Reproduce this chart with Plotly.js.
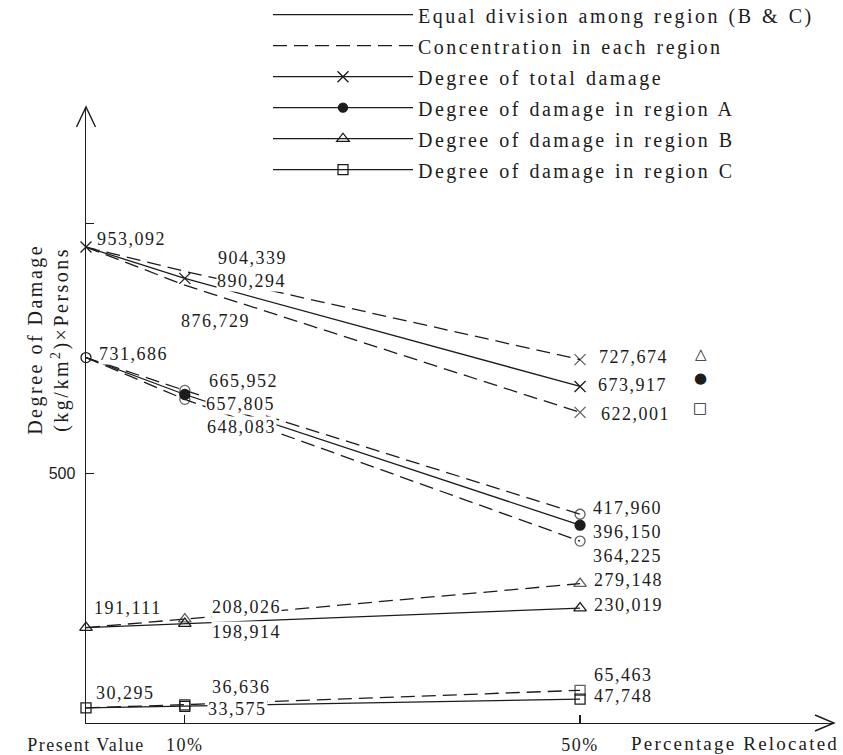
<!DOCTYPE html>
<html>
<head>
<meta charset="utf-8">
<script src="https://cdn.plot.ly/plotly-3.0.1.min.js"></script>
<style>
  html, body { margin: 0; padding: 0; background: #fff; }
  #chart { width: 843px; height: 755px; }
  .annotation-text { letter-spacing: 1.5px; }
  .xtick text { letter-spacing: 1.5px; }
  .legendtext { letter-spacing: 2.5px; word-spacing: 1px; }
</style>
</head>
<body>
<div id="chart"></div>
<script>
// ---- data (values as printed on the chart) ----
const xPct = [0, 10, 50];
const xTickText = ['Present Value', '10%', '50%'];
const totalEqual = [953092, 890294, 673917];
const totalConcB = [953092, 904339, 727674];
const totalConcC = [953092, 876729, 622001];
const aEqual = [731686, 657805, 396150];
const aConcB = [731686, 665952, 417960];
const aConcC = [731686, 648083, 364225];
const bEqual = [191111, 198914, 230019];
const bConcB = [191111, 208026, 279148];
const cEqual = [30295, 33575, 47748];
const cConcC = [30295, 36636, 65463];
const legendNames = [
  'Equal division among region (B & C)',
  'Concentration in each region',
  'Degree of total damage',
  'Degree of damage in region A',
  'Degree of damage in region B',
  'Degree of damage in region C'
];
const yTickVals = [500];
const yTickText = ['500'];

const INK = '#1c1c1c';
const SERIF = 'Liberation Serif';
const DASH = '14px,7px';
const k = v => v.map(d => d / 1000);

function line(y, dash, symbol, size) {
  return {
    x: xPct, y: k(y), type: 'scatter', mode: 'lines+markers',
    showlegend: false, cliponaxis: false, hoverinfo: 'skip',
    line: { color: INK, width: 1.3, dash: dash },
    marker: { symbol: symbol, size: size, color: INK, line: { color: INK, width: 1.3 } }
  };
}

const traces = [
  line(totalConcB, DASH, 'x-thin', [0, 0, 11]),
  line(totalConcC, DASH, 'x-thin', [0, 0, 11]),
  line(totalEqual, 'solid', 'x-thin', 11),
  line(aConcB, DASH, 'circle-open', [0, 10, 10]),
  line(aConcC, DASH, 'circle-open', [0, 10, 10]),
  line(aEqual, 'solid', ['circle-open', 'circle', 'circle'], 10),
  line(bConcB, DASH, 'triangle-up-open', [0, 11, 11]),
  line(bEqual, 'solid', 'triangle-up-open', 11),
  line(cConcC, DASH, 'square-open', [0, 10, 10]),
  line(cEqual, 'solid', 'square-open', 10)
];

// legend-only entries
const legendStyles = [
  { mode: 'lines', dash: 'solid' },
  { mode: 'lines', dash: DASH },
  { mode: 'lines+markers', dash: 'solid', symbol: 'x-thin', size: 11 },
  { mode: 'lines+markers', dash: 'solid', symbol: 'circle', size: 9 },
  { mode: 'lines+markers', dash: 'solid', symbol: 'triangle-up-open', size: 11 },
  { mode: 'lines+markers', dash: 'solid', symbol: 'square-open', size: 10 }
];
legendNames.forEach((name, i) => {
  const s = legendStyles[i];
  traces.push({
    x: [null], y: [null], type: 'scatter', mode: s.mode, name: name,
    legendgroup: 'g' + i, hoverinfo: 'skip',
    line: { color: INK, width: 1.3, dash: s.dash },
    marker: { symbol: s.symbol || 'circle', size: s.size || 1, color: INK, line: { color: INK, width: 1.3 } }
  });
});

// value labels: [series, index, xshift, yshift]
const labelSpec = [
  [totalEqual, 0, 10, 8], [totalConcB, 1, 32, 13], [totalEqual, 1, 31, -3], [totalConcC, 1, -5, -36],
  [totalConcB, 2, 18, 3], [totalEqual, 2, 17, 1], [totalConcC, 2, 20, -2],
  [aEqual, 0, 12, 4], [aConcB, 1, 23, 9], [aEqual, 1, 20, -9], [aConcC, 1, 21, -28],
  [aConcB, 2, 12, 6], [aEqual, 2, 12, -7], [aConcC, 2, 12, -15],
  [bEqual, 0, 7, 20], [bConcB, 1, 26, 12], [bEqual, 1, 26, -8], [bConcB, 2, 13, 4], [bEqual, 2, 13, 3],
  [cEqual, 0, 9, 15], [cConcC, 1, 26, 18], [cEqual, 1, 22, -3], [cConcC, 2, 13, 15], [cEqual, 2, 13, 3]
];
const annotations = labelSpec.map(([s, i, dx, dy]) => ({
  x: xPct[i], y: s[i] / 1000, xref: 'x', yref: 'y',
  text: s[i].toLocaleString('en-US'), showarrow: false,
  xanchor: 'left', yanchor: 'middle', xshift: dx, yshift: dy,
  bgcolor: '#ffffff', borderpad: 0,
  font: { family: SERIF, size: 18, color: INK }
}));

// key symbols beside the 50% totals
[[totalConcB, '△', 6], [totalEqual, '●', 8], [totalConcC, '□', 4]].forEach(([s, t, dy]) => {
  annotations.push({
    x: xPct[2], y: s[2] / 1000, xref: 'x', yref: 'y', text: t, showarrow: false,
    xanchor: 'center', yanchor: 'middle', xshift: 121, yshift: dy,
    font: { family: 'DejaVu Sans', size: 15, color: INK }
  });
});

// y axis title
const sp = (t, ls) => '<span style="letter-spacing:' + ls + 'px">' + t + '</span>';
annotations.push({
  x: 0, y: 0.622, xref: 'paper', yref: 'paper', xshift: -37, textangle: -90,
  text: sp('Degree of Damage', 2.5) + '<br>' + sp('(kg/km<sup>2</sup>)×Persons', 2.5),
  showarrow: false, xanchor: 'center', yanchor: 'middle',
  font: { family: SERIF, size: 20, color: INK }
});
// x axis title
annotations.push({
  x: 1, y: 0, xref: 'paper', yref: 'paper', xshift: 7, yshift: -8,
  text: sp('Percentage Relocated', 2.2), showarrow: false,
  xanchor: 'right', yanchor: 'top', font: { family: SERIF, size: 19, color: INK }
});

const layout = {
  width: 843, height: 755,
  margin: { l: 86, r: 9, t: 107, b: 32, autoexpand: false },
  paper_bgcolor: '#fff', plot_bgcolor: '#fff',
  showlegend: true,
  legend: {
    x: 0.2433, y: 1.1815, xanchor: 'left', yanchor: 'top',
    font: { family: SERIF, size: 20, color: INK },
    itemwidth: 140, tracegroupgap: 2, bgcolor: 'rgba(0,0,0,0)'
  },
  xaxis: {
    range: [0, 75.7], showgrid: false, zeroline: false,
    showline: true, linecolor: INK, linewidth: 1.4,
    tickmode: 'array', tickvals: xPct, ticktext: xTickText,
    ticks: 'inside', ticklen: 8, tickcolor: INK, tickwidth: 1.2,
    ticklabelstandoff: 5,
    tickfont: { family: SERIF, size: 18, color: INK }
  },
  yaxis: {
    range: [0, 1233.5], showgrid: false, zeroline: false,
    showline: true, linecolor: INK, linewidth: 1.4,
    tickmode: 'array', tickvals: yTickVals, ticktext: yTickText,
    ticks: 'inside', ticklen: 8, tickcolor: INK, tickwidth: 1.2,
    ticklabelstandoff: 6,
    tickfont: { family: 'Liberation Sans', size: 16, color: INK },
    minor: { tickmode: 'array', tickvals: [1000], ticks: 'inside', ticklen: 8, tickcolor: INK, tickwidth: 1.2 }
  },
  shapes: [
    { type: 'path', xref: 'paper', yref: 'paper', xsizemode: 'pixel', ysizemode: 'pixel',
      xanchor: 0, yanchor: 1, path: 'M-9.5,-20 L0,0 L9.5,-20', line: { color: INK, width: 1.4 } },
    { type: 'path', xref: 'paper', yref: 'paper', xsizemode: 'pixel', ysizemode: 'pixel',
      xanchor: 1, yanchor: 0, path: 'M-19,8 L0,0 L-19,-8', line: { color: INK, width: 1.4 } }
  ],
  annotations: annotations
};

Plotly.newPlot('chart', traces, layout, { displayModeBar: false, staticPlot: true });
</script>
</body>
</html>
